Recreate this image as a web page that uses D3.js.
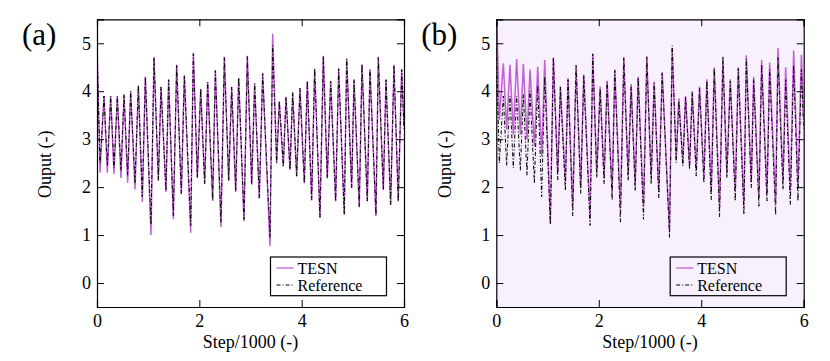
<!DOCTYPE html>
<html><head><meta charset="utf-8">
<script src="https://cdn.jsdelivr.net/npm/d3@7"></script>
<style>
html,body{margin:0;padding:0;background:#fff;}
svg{display:block;font-family:"Liberation Serif","DejaVu Serif",serif;}
text{font-family:"Liberation Serif","DejaVu Serif",serif;fill:#000;}
</style></head>
<body>
<svg id="chart" width="830" height="361"></svg>
<script>
// turning-point steps (shared by all series)
const steps = [0,59,137,202,267,332,397,469,528,599,658,743,808,886,945,1055,1114,1199,1251,1348,1400,1492,1557,1648,1707,1831,1883,1961,2027,2104,2163,2261,2313,2423,2489,2574,2632,2711,2769,2873,2938,3023,3081,3172,3238,3381,3433,3511,3563,3641,3694,3772,3824,3902,3967,4052,4110,4195,4254,4358,4423,4501,4567,4664,4723,4833,4880,4977,5023,5126,5179,5283,5335,5452,5498,5596,5648,5739,5804,5888,5955,6000];
// reference output
const refValues = [4.9,2.5,3.9,2.45,3.9,2.4,3.9,2.35,3.93,2.25,4.0,2.08,4.12,1.8,4.3,1.22,4.7,2.15,4.09,1.93,4.24,1.4,4.54,1.87,4.33,1.2,4.78,2.2,4.05,2.07,4.19,1.73,4.43,1.27,4.7,2.14,4.09,1.92,4.28,1.33,4.72,2.06,4.16,1.78,4.37,0.95,4.95,2.51,3.79,2.44,3.88,2.37,3.97,2.23,4.06,2.09,4.21,1.74,4.47,1.38,4.73,2.19,4.21,1.71,4.47,1.43,4.67,1.99,4.24,1.6,4.56,1.71,4.45,1.42,4.7,1.95,4.24,1.64,4.54,1.71,4.45,3.2];
// TESN output, panel (a)
const tesnAValues = [5.0,2.3,3.9,2.3,3.9,2.28,3.9,2.19,3.93,2.09,4.0,1.95,4.12,1.69,4.3,1.0,4.72,2.13,4.09,1.9,4.24,1.33,4.55,1.85,4.33,1.05,4.8,2.19,4.05,2.06,4.19,1.71,4.43,1.17,4.72,2.13,4.09,1.9,4.28,1.29,4.74,2.05,4.16,1.76,4.37,0.77,5.2,2.5,3.79,2.43,3.88,2.36,3.97,2.22,4.06,2.08,4.21,1.72,4.47,1.35,4.74,2.18,4.21,1.7,4.47,1.42,4.68,1.98,4.24,1.58,4.56,1.7,4.45,1.4,4.72,1.94,4.24,1.63,4.55,1.7,4.46,3.3];
// TESN output, panel (b)
const tesnBValues = [5.9,3.4,4.58,3.2,4.55,3.1,4.67,3.1,4.57,3.0,4.45,2.85,4.51,2.64,4.65,1.26,4.7,2.3,4.1,2.1,4.27,1.6,4.5,2.0,4.35,1.35,4.75,2.3,4.1,2.2,4.22,1.9,4.45,1.55,4.68,2.25,4.15,2.05,4.3,1.6,4.7,2.2,4.2,1.9,4.4,1.1,4.9,2.6,3.85,2.5,3.9,2.45,4.0,2.35,4.1,2.2,4.25,1.9,4.5,1.6,4.65,2.3,4.25,1.9,4.5,1.6,4.75,2.1,4.3,1.8,4.65,1.85,4.6,1.7,4.9,2.1,4.5,1.9,4.85,2.0,4.76,3.4];

const xTicks = [0,2,4,6];
const yTicks = [0,1,2,3,4,5];
const labels = ["(a)","(b)"];
const legendNames = ["TESN","Reference"];

const svg = d3.select("#chart");
const tesnColor = "#c060d2";
const serif = "'Liberation Serif','DejaVu Serif',serif";
const panels = [
  {left:97, right:404, label:labels[0], tesn:tesnAValues, bg:"#ffffff"},
  {left:496.3, right:803.7, label:labels[1], tesn:tesnBValues, bg:"#f8f0fc"}
];
const plotTop = 19.3, plotBottom = 307;

panels.forEach((p,i)=>{
  const x = d3.scaleLinear().domain([0,6]).range([p.left,p.right]);
  const y = d3.scaleLinear().domain([-0.5,5.5]).range([plotBottom,plotTop]);
  const g = svg.append("g");
  const cid = "clip"+i;
  svg.append("clipPath").attr("id",cid).append("rect")
    .attr("x",p.left).attr("y",plotTop).attr("width",p.right-p.left).attr("height",plotBottom-plotTop);
  g.append("rect").attr("x",p.left).attr("y",plotTop).attr("width",p.right-p.left).attr("height",plotBottom-plotTop)
    .attr("fill",p.bg);

  const line = d3.line().x((d)=>x(d[0]/1000)).y(d=>y(d[1]));
  const plot = g.append("g").attr("clip-path",`url(#${cid})`);
  plot.append("path").datum(steps.map((s,k)=>[s,p.tesn[k]]))
    .attr("d",line).attr("fill","none").attr("stroke",tesnColor).attr("stroke-width",1.5);
  plot.append("path").datum(steps.map((s,k)=>[s,refValues[k]]))
    .attr("d",line).attr("fill","none").attr("stroke","#000").attr("stroke-width",1)
    .attr("stroke-dasharray","4,2,1,2");

  const fmt = d3.format("d");
  const axB = d3.axisBottom(x).tickValues(xTicks).tickSize(-7).tickPadding(7).tickFormat(fmt);
  const axT = d3.axisTop(x).tickValues(xTicks).tickSize(-7).tickFormat("");
  const axL = d3.axisLeft(y).tickValues(yTicks).tickSize(-7).tickPadding(6).tickFormat(fmt);
  const axR = d3.axisRight(y).tickValues(yTicks).tickSize(-7).tickFormat("");
  [[axB,`translate(0,${plotBottom})`],[axT,`translate(0,${plotTop})`],[axL,`translate(${p.left},0)`],[axR,`translate(${p.right},0)`]]
  .forEach(([ax,tr])=>{
    const a = g.append("g").attr("transform",tr).call(ax).attr("font-family",serif);
    a.select(".domain").attr("stroke","#000").attr("stroke-width",1.2);
    a.selectAll(".tick line").attr("stroke","#000").attr("stroke-width",1);
    a.selectAll(".tick text").style("font-family",serif).style("font-size","18px").attr("fill","#000");
  });

  g.append("text").attr("x",(p.left+p.right)/2).attr("y",348).attr("text-anchor","middle")
    .style("font-family",serif).style("font-size","18px").text("Step/1000 (-)");
  g.append("text").attr("transform",`translate(${p.left-52},${(plotTop+plotBottom)/2+1}) rotate(-90)`)
    .attr("text-anchor","middle").attr("dy","0.35em").style("font-family",serif).style("font-size","18px").text("Ouput (-)");
  g.append("text").attr("x",p.left-75).attr("y",45).style("font-family",serif).style("font-size","31px").text(p.label);

  const lx = p.right-133.5, ly = 257, lw = 116, lh = 38.7;
  const lg = g.append("g");
  lg.append("rect").attr("x",lx).attr("y",ly).attr("width",lw).attr("height",lh)
    .attr("fill",p.bg).attr("stroke","#000").attr("stroke-width",1.2);
  const rows = [{name:legendNames[0],color:tesnColor,dash:null,w:1.3},{name:legendNames[1],color:"#000",dash:"4,2,1,2",w:1}];
  rows.forEach((r,k)=>{
    const yy = ly + 11 + k*17;
    lg.append("line").attr("x1",lx+6).attr("x2",lx+23).attr("y1",yy).attr("y2",yy)
      .attr("stroke",r.color).attr("stroke-width",r.w).attr("stroke-dasharray",r.dash);
    lg.append("text").attr("x",lx+27).attr("y",yy).attr("dy","0.35em").style("font-family",serif).style("font-size","16px").text(r.name);
  });
});
</script>
</body></html>
